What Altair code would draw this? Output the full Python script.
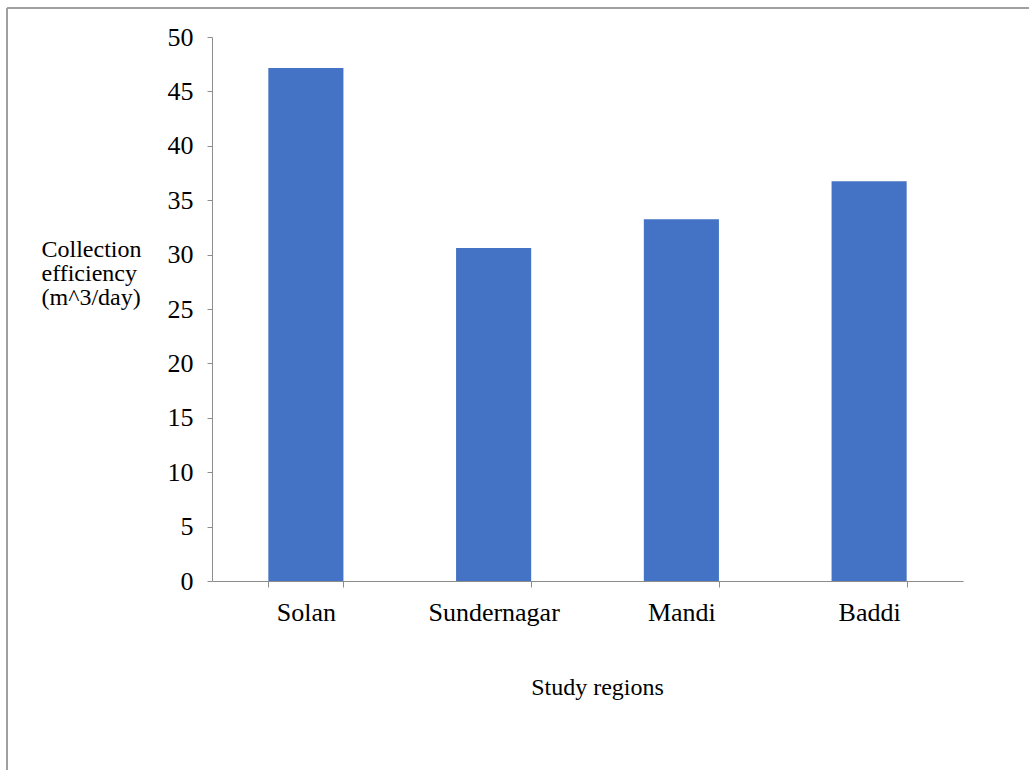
import altair as alt
import pandas as pd

regions = ["Solan", "Sundernagar", "Mandi", "Baddi"]
efficiency = [47.15, 30.6, 33.25, 36.75]

df = pd.DataFrame({"region": regions, "value": efficiency})

FONT = "Liberation Serif"
AXIS_COLOR = "#8c8c8c"

bars = alt.Chart(df).mark_bar(color="#4472C4").encode(
    x=alt.X(
        "region:N",
        sort=regions,
        scale=alt.Scale(paddingInner=0.6, paddingOuter=0.3),
        axis=alt.Axis(
            title="Study regions",
            labelAngle=0,
            labelFont=FONT,
            labelFontSize=26,
            labelColor="black",
            labelPadding=12,
            tickBand="extent",
            tickSize=6,
            tickColor=AXIS_COLOR,
            domainColor=AXIS_COLOR,
            titleFont=FONT,
            titleFontSize=24,
            titleFontWeight="normal",
            titleColor="black",
            titleX=385,
            titleY=106,
            titleAlign="center",
            titleBaseline="middle",
        ),
    ),
    y=alt.Y(
        "value:Q",
        scale=alt.Scale(domain=[0, 50], nice=False),
        axis=alt.Axis(
            values=list(range(0, 55, 5)),
            title=["Collection", "efficiency", "(m^3/day)"],
            titleAngle=0,
            titleAlign="left",
            titleBaseline="middle",
            titleX=-171,
            titleY=212,
            titleFont=FONT,
            titleFontSize=24,
            titleFontWeight="normal",
            titleLineHeight=24,
            titleColor="black",
            labelFont=FONT,
            labelFontSize=26,
            labelColor="black",
            labelPadding=14,
            tickSize=5,
            tickColor=AXIS_COLOR,
            domainColor=AXIS_COLOR,
            grid=False,
        ),
    ),
)

top_border = alt.Chart(df).mark_rule(color="#a0a0a0", strokeWidth=2).encode(
    x=alt.value(-205), x2=alt.value(830), y=alt.value(-29)
)
left_border = alt.Chart(df).mark_rule(color="#a0a0a0", strokeWidth=2).encode(
    x=alt.value(-205), y=alt.value(-29), y2=alt.value(740)
)

chart = alt.layer(bars, top_border, left_border).properties(
    width=751,
    height=544,
    autosize=alt.AutoSizeParams(type="none"),
    padding={"left": 212, "top": 37, "right": 66, "bottom": 189},
    background="white",
).configure_view(stroke=None)

chart.save("out.html", embed_options={"renderer": "svg", "actions": False})
